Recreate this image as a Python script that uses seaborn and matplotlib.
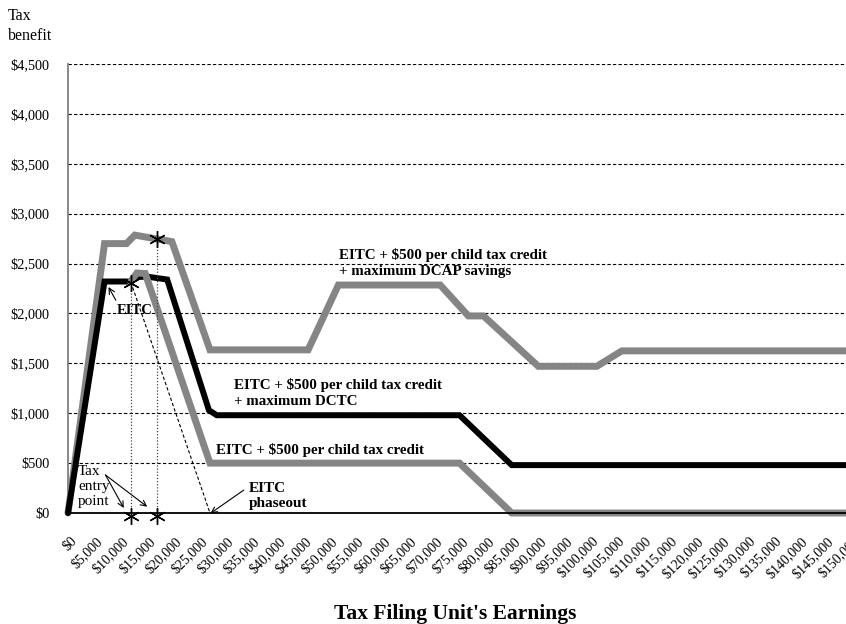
import matplotlib
matplotlib.use("Agg")
import matplotlib.pyplot as plt
import matplotlib.transforms as mtransforms
import seaborn as sns
import pandas as pd

# ---------------- data ----------------
dcap_x = [0, 7000, 11200, 12800, 19900, 27200, 46000, 51800, 71300, 76700, 79600, 90100, 101300, 106100, 150000]
dcap_y = [0, 2700, 2700, 2785, 2720, 1635, 1635, 2285, 2285, 1975, 1975, 1470, 1470, 1625, 1625]

dctc_x = [0, 7000, 12000, 13500, 15000, 19000, 27000, 28500, 75000, 85000, 150000]
dctc_y = [0, 2320, 2320, 2365, 2370, 2340, 1030, 980, 980, 480, 480]

ctc_x = [12000, 13200, 14800, 27200, 75000, 85000, 150000]
ctc_y = [2320, 2405, 2400, 500, 500, 0, 0]

eitc_x = [0, 7000, 12000, 27200]
eitc_y = [0, 2320, 2320, 0]

entry_x = [12000, 17000]
entry_y = [2305, 2742]

xticks = list(range(0, 150001, 5000))
xtick_labels = ["${:,}".format(v) for v in xticks]
yticks = list(range(0, 4501, 500))
ytick_labels = ["${:,}".format(v) for v in yticks]

GREY = "#858585"

# ---------------- figure ----------------
sns.set_style("white")
plt.rcParams["font.family"] = ["Liberation Serif", "DejaVu Serif"]
plt.rcParams["text.color"] = "black"
plt.rcParams["xtick.color"] = "black"
plt.rcParams["ytick.color"] = "black"
plt.rcParams["axes.labelcolor"] = "black"

fig = plt.figure(figsize=(8.46, 6.24), dpi=100)
W, H = 846, 624
ax = fig.add_axes([68 / W, 111 / H, (851 - 68) / W, (513 - 64) / H])

df_eitc = pd.DataFrame({"x": eitc_x, "y": eitc_y})
df_dcap = pd.DataFrame({"x": dcap_x, "y": dcap_y})
df_dctc = pd.DataFrame({"x": dctc_x, "y": dctc_y})
df_ctc = pd.DataFrame({"x": ctc_x, "y": ctc_y})

sns.lineplot(data=df_eitc, x="x", y="y", ax=ax, color="black", lw=0.8,
             linestyle=(0, (3, 2)), estimator=None, sort=False, zorder=2)
sns.lineplot(data=df_dcap, x="x", y="y", ax=ax, color=GREY, lw=5.0,
             estimator=None, sort=False, zorder=3)
sns.lineplot(data=df_dctc, x="x", y="y", ax=ax, color="black", lw=4.3,
             estimator=None, sort=False, zorder=4)
sns.lineplot(data=df_ctc, x="x", y="y", ax=ax, color=GREY, lw=5.0,
             estimator=None, sort=False, zorder=5)
for ln in ax.get_lines():
    ln.set_clip_on(False)
    ln.set_solid_joinstyle("miter")

# entry point guides and asterisks
for ex, ey in zip(entry_x, entry_y):
    ax.plot([ex, ex], [0, ey], color="#444444", lw=0.9, ls=(0, (1, 1.5)), zorder=6)
    ax.plot([ex, ex], [ey, -28], ls="none", marker=(6, 2, 0), ms=12,
            mew=1.0, mec="black", clip_on=False, zorder=8)

ax.set_xlim(0, 150000)
ax.set_ylim(0, 4500)
ax.set_xticks(xticks)
ax.set_xticklabels(xtick_labels, fontsize=10)
ax.set_yticks(yticks)
ax.set_yticklabels(ytick_labels, fontsize=10.3)
ax.set_xlabel("")
ax.set_ylabel("")

ax.yaxis.grid(True, color="black", lw=0.8, ls=(0, (3, 2)))
ax.xaxis.grid(False)
ax.set_axisbelow(True)

for s in ["top", "right"]:
    ax.spines[s].set_visible(False)
ax.spines["left"].set_color("#808080")
ax.spines["left"].set_linewidth(1.3)
ax.spines["bottom"].set_color("black")
ax.spines["bottom"].set_linewidth(1.3)
ax.spines["bottom"].set_zorder(7)

ax.tick_params(axis="x", direction="out", length=8.5, width=1, color="black", pad=7.0)
ax.tick_params(axis="y", length=0, pad=13.5)
offset = mtransforms.ScaledTranslation(2 / 100, 0, fig.dpi_scale_trans)
for lab in ax.get_xticklabels():
    lab.set_rotation(45)
    lab.set_ha("right")
    lab.set_va("top")
    lab.set_rotation_mode("anchor")
    lab.set_transform(lab.get_transform() + offset)

# ---------------- annotations ----------------
lab_kw = dict(fontsize=10.8, fontweight="bold", ha="left", va="center", linespacing=1.3)
ax.text(51900, 2505, "EITC + $500 per child tax credit\n+ maximum DCAP savings", **lab_kw)
ax.text(31800, 1207, "EITC + $500 per child tax credit\n+ maximum DCTC", **lab_kw)
ax.text(28400, 631, "EITC + $500 per child tax credit", **lab_kw)

arrow = dict(arrowstyle="->", color="black", lw=0.8, shrinkA=0, shrinkB=0)
ax.annotate("EITC", xy=(7760, 2265), xytext=(12740, 2034), fontsize=10.5,
            fontweight="bold", ha="center", va="center",
            arrowprops=dict(arrow, relpos=(0.05, 0.9)))
ax.annotate("", xy=(10690, 50), xytext=(7180, 381), arrowprops=arrow)
ax.annotate("", xy=(15170, 63), xytext=(7180, 381), arrowprops=arrow)
ax.text(1900, 265, "Tax\nentry\npoint", fontsize=11, ha="left", va="center", linespacing=1.2)
ax.annotate("", xy=(27300, -3), xytext=(33680, 230), arrowprops=arrow,
            annotation_clip=False)
ax.text(34600, 168, "EITC\nphaseout", fontsize=11, fontweight="bold", ha="left",
        va="center", linespacing=1.25)

fig.text(8 / W, 1 - 8 / H, "Tax\nbenefit", fontsize=11.5, ha="left", va="top", linespacing=1.35)
fig.text(455 / W, 1 - 614 / H, "Tax Filing Unit's Earnings", fontsize=15.5,
         fontweight="bold", ha="center", va="center")

fig.savefig("out.png", dpi=100)
